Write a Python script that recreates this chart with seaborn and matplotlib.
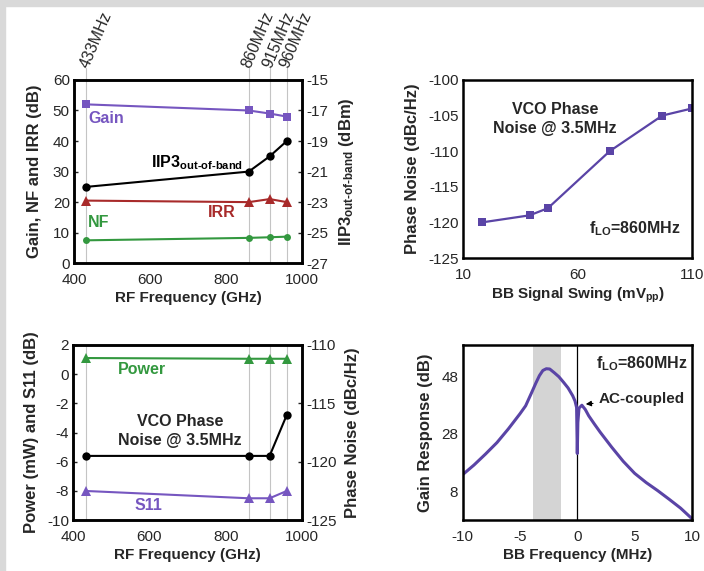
import matplotlib
matplotlib.use('Agg')
import matplotlib.pyplot as plt
import seaborn as sns
from matplotlib.patches import Rectangle

sns.set_style('white')
plt.rcParams['font.family'] = ['Liberation Sans', 'DejaVu Sans']
plt.rcParams['axes.unicode_minus'] = False
plt.rcParams['mathtext.fontset'] = 'custom'
plt.rcParams['mathtext.rm'] = 'Liberation Sans'
plt.rcParams['mathtext.bf'] = 'Liberation Sans:bold'
plt.rcParams['mathtext.default'] = 'bf'

# RF sweep (top-left / bottom-left)
rf_freq = [433, 860, 915, 960]
rf_labels = ['433MHz', '860MHz', '915MHz', '960MHz']
gain = [52, 50, 49, 48]
nf = [7.5, 8.3, 8.5, 8.7]
irr = [20.5, 20, 21, 20]
iip3 = [-22, -21, -20, -19]
power = [1.1, 1.05, 1.05, 1.05]
s11 = [-8, -8.5, -8.5, -8]
pn_rf = [-119.5, -119.5, -119.5, -116]

# phase noise vs BB swing (top-right)
bb_swing = [18, 39, 47, 74, 97, 110]
pn_swing = [-120, -119, -118, -110, -105, -104]

# gain response (bottom-right)
bb_freq = [-10, -9, -8, -7, -6, -5, -4.5, -4, -3.6, -3.3, -3, -2.7, -2.4, -2, -1.6, -1.2, -0.8,
           -0.4, -0.2, -0.06, 0, 0.05, 0.15, 0.4, 0.7, 1, 1.5, 2, 3, 4, 5, 6, 7, 8, 9, 10]
bb_gain = [13.8, 17.2, 21, 25, 29.8, 35, 37.8, 42.2, 45.8, 48.3, 50.1, 50.7, 50.6, 49.3, 47.9, 46, 44,
           41.3, 39.5, 37.2, 21.2, 32, 37, 38, 36.5, 34.3, 31.4, 28.6, 23.4, 18.5, 14.3, 11.1, 8.3, 5.3, 2.2, -1.5]

purple = '#7656c0'
dpurple = '#5a44a6'
red = '#a82a2a'
green = '#33983f'
grey = '#c4c4c4'
oob = 'out\u2010of\u2010band'

fig = plt.figure(figsize=(7.04, 5.71), dpi=100)
fig.patches.append(Rectangle((0, 0.99), 1, 0.01, transform=fig.transFigure, color='#d9d9d9', zorder=-1))
fig.patches.append(Rectangle((0, 0), 0.007, 1, transform=fig.transFigure, color='#d9d9d9', zorder=-1))

ax1 = fig.add_axes([0.105, 0.539, 0.324, 0.321])
ax2 = fig.add_axes([0.658, 0.548, 0.325, 0.312])
ax3 = fig.add_axes([0.104, 0.089, 0.325, 0.307])
ax4 = fig.add_axes([0.657, 0.089, 0.326, 0.307])

lab = dict(fontsize=11, fontweight='bold', labelpad=3)
ylab = dict(fontsize=12, fontweight='bold')
txt = dict(fontsize=11.5, fontweight='bold')

def frame(ax):
    for s in ax.spines.values():
        s.set_linewidth(1.8)
        s.set_color('black')
    ax.tick_params(labelsize=11, direction='in', length=3, width=1, pad=3)
    ax.tick_params(axis='x', pad=7)

# ---- top-left
for f, t in zip(rf_freq, rf_labels):
    ax1.plot([f, f], [0, 64], color=grey, lw=0.8, zorder=0, clip_on=False)
    ax1.text(f - 6, 64.3, t, rotation=67, rotation_mode='anchor', ha='left', va='center', fontsize=11.5)
sns.lineplot(x=rf_freq, y=gain, ax=ax1, color=purple, marker='s', markersize=6, lw=1.5, markeredgewidth=0)
sns.lineplot(x=rf_freq, y=irr, ax=ax1, color=red, marker='^', markersize=7, lw=1.5, markeredgewidth=0)
sns.lineplot(x=rf_freq, y=nf, ax=ax1, color=green, marker='o', markersize=5, lw=1.5, markeredgewidth=0)
ax1.set_xlim(400, 1000)
ax1.set_ylim(0, 60)
ax1.set_xticks([400, 600, 800, 1000])
ax1.set_yticks(range(0, 61, 10))
ax1.set_xlabel('RF Frequency (GHz)', **lab)
ax1.set_ylabel('Gain, NF and IRR (dB)', labelpad=8, **ylab)
ax1.text(437, 47.5, 'Gain', color=purple, va='center', **txt)
ax1.text(603, 33, 'IIP3$_{' + oob + '}$', color='black', va='center', **txt)
ax1.text(753, 16.7, 'IRR', color=red, va='center', **txt)
ax1.text(437, 13.4, 'NF', color=green, va='center', **txt)
frame(ax1)
ax1b = ax1.twinx()
sns.lineplot(x=rf_freq, y=iip3, ax=ax1b, color='black', marker='o', markersize=6, lw=1.5, markeredgewidth=0)
ax1b.set_ylim(-27, -15)
ax1b.set_yticks(range(-27, -14, 2))
ax1b.set_ylabel('IIP3$_{' + oob + '}$ (dBm)', labelpad=6, **ylab)
frame(ax1b)

# ---- top-right
sns.lineplot(x=bb_swing, y=pn_swing, ax=ax2, color=dpurple, marker='s', markersize=6, lw=1.6, markeredgewidth=0)
ax2.set_xlim(10, 110)
ax2.set_ylim(-125, -100)
ax2.set_xticks([10, 60, 110])
ax2.set_yticks(range(-125, -99, 5))
ax2.set_xlabel('BB Signal Swing (mV$_{pp}$)', **lab)
ax2.set_ylabel('Phase Noise (dBc/Hz)', labelpad=6, **ylab)
ax2.text(50, -105.5, 'VCO Phase\nNoise @ 3.5MHz', ha='center', va='center', linespacing=1.3, **txt)
ax2.text(105, -120.8, 'f$_{LO}$=860MHz', ha='right', va='center', **txt)
frame(ax2)

# ---- bottom-left
for f in rf_freq:
    ax3.axvline(f, color=grey, lw=0.8, zorder=0)
sns.lineplot(x=rf_freq, y=power, ax=ax3, color=green, marker='^', markersize=7, lw=1.5, markeredgewidth=0)
sns.lineplot(x=rf_freq, y=s11, ax=ax3, color=purple, marker='^', markersize=7, lw=1.5, markeredgewidth=0)
ax3.set_xlim(400, 1000)
ax3.set_ylim(-10, 2)
ax3.set_xticks([400, 600, 800, 1000])
ax3.set_yticks(range(-10, 3, 2))
ax3.set_xlabel('RF Frequency (GHz)', **lab)
ax3.set_ylabel('Power (mW) and S11 (dB)', labelpad=6, **ylab)
ax3.text(518, 0.3, 'Power', color=green, va='center', **txt)
ax3.text(680, -3.9, 'VCO Phase\nNoise @ 3.5MHz', ha='center', va='center', linespacing=1.3, **txt)
ax3.text(562, -9.0, 'S11', color=purple, va='center', **txt)
frame(ax3)
ax3b = ax3.twinx()
sns.lineplot(x=rf_freq, y=pn_rf, ax=ax3b, color='black', marker='o', markersize=6, lw=1.5, markeredgewidth=0)
ax3b.set_ylim(-125, -110)
ax3b.set_yticks(range(-125, -109, 5))
ax3b.set_ylabel('Phase Noise (dBc/Hz)', labelpad=6, **ylab)
frame(ax3b)

# ---- bottom-right
ax4.axvspan(-3.9, -1.4, color='#d4d4d4', lw=0, zorder=0)
ax4.axvline(0, color='black', lw=0.9, zorder=1)
sns.lineplot(x=bb_freq, y=bb_gain, ax=ax4, color=dpurple, lw=2.2, sort=False)
ax4.set_xlim(-10, 10)
ax4.set_ylim(-2, 59)
ax4.set_xticks([-10, -5, 0, 5, 10])
ax4.set_yticks([8, 18, 28, 38, 48])
ax4.set_yticklabels(['8', '', '28', '', '48'])
ax4.set_xlabel('BB Frequency (MHz)', **lab)
ax4.set_ylabel('Gain Response (dB)', labelpad=6, **ylab)
ax4.text(9.6, 52.5, 'f$_{LO}$=860MHz', ha='right', va='center', **txt)
ax4.annotate('AC-coupled', xy=(0.5, 38.3), xytext=(1.9, 40.3), va='center', fontsize=11, fontweight='bold',
             arrowprops=dict(arrowstyle='-|>', color='black', lw=0.8, mutation_scale=8))
frame(ax4)

fig.savefig('out.png', dpi=100)
